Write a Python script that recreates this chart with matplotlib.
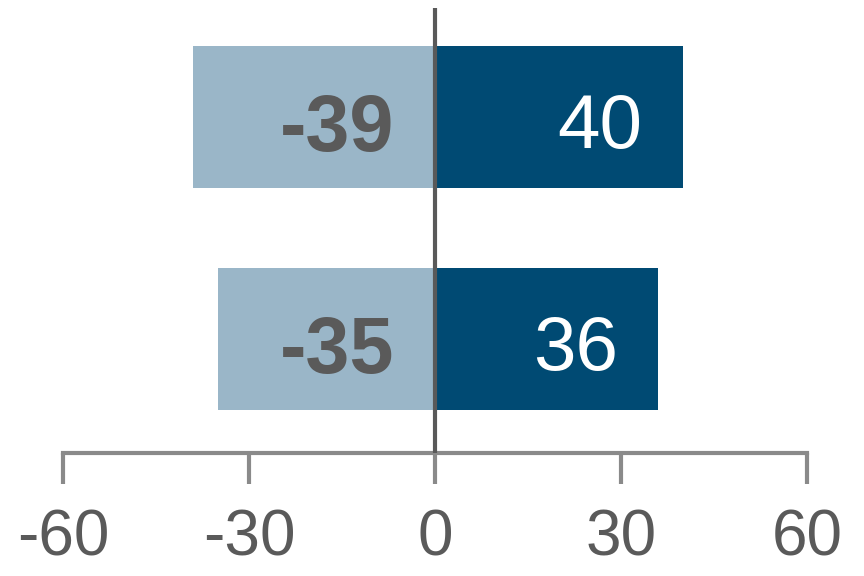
import matplotlib.pyplot as plt

# two rows, bottom to top
rows = ['B', 'A']
neg_vals = [-35, -39]
pos_vals = [36, 40]
xticks = [-60, -30, 0, 30, 60]

light = '#9AB6C8'
dark = '#004A73'
grey_txt = '#5A5A5A'
axis_grey = '#8A8A8A'
fam = ['Liberation Sans', 'DejaVu Sans']

fig = plt.figure(figsize=(8.64, 5.76), dpi=100)
ax = fig.add_axes([63 / 864, 1 - 453 / 576, 744 / 864, 445 / 576])

ypos = list(range(len(rows)))
ax.barh(ypos, neg_vals, height=0.64, color=light, zorder=2)
ax.barh(ypos, pos_vals, height=0.64, color=dark, zorder=2)
ax.axvline(0, color='#595959', linewidth=3, zorder=3)

for y, n, p in zip(ypos, neg_vals, pos_vals):
    ax.text(-6.6, y - 0.153, str(n), ha='right', va='baseline', fontsize=57,
            fontweight='bold', color=grey_txt, family=fam, zorder=4)
    ax.text(p - 6.5, y - 0.14, str(p), ha='right', va='baseline', fontsize=55,
            color='white', family=fam, zorder=4)

ax.set_xlim(-60, 60)
ax.set_ylim(-0.514, 1.49)
ax.set_xticks(xticks)
ax.set_xticklabels([str(t) for t in xticks], family=fam, fontsize=46, color=grey_txt)
ax.set_yticks([])
for s in ['top', 'left', 'right']:
    ax.spines[s].set_visible(False)
ax.spines['bottom'].set_color(axis_grey)
ax.spines['bottom'].set_linewidth(3)
ax.tick_params(axis='x', direction='out', length=22, width=3, color=axis_grey, pad=18)

fig.savefig('out.png', dpi=100)
